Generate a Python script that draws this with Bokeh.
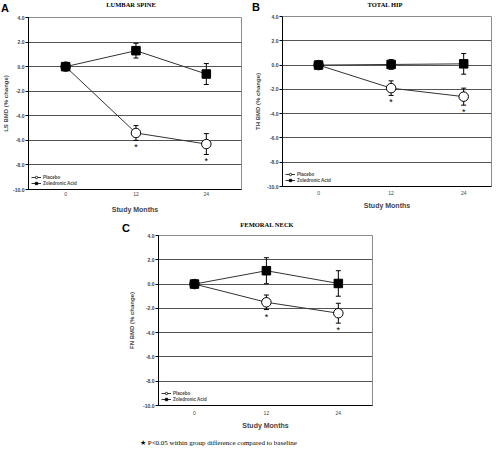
from bokeh.plotting import figure
from bokeh.models import (Range1d, FixedTicker, PrintfTickFormatter, ColumnDataSource,
                          Whisker, TeeHead, Legend, LegendItem, Div, Spacer)
from bokeh.layouts import column, row
from bokeh.embed import file_html
from bokeh.resources import INLINE
from bokeh.core.properties import value

# ---------------- data ----------------
months = [0, 12, 24]
y_ticks = [-10, -8, -6, -4, -2, 0, 2, 4]
grid_ticks = [-8, -6, -4, -2, 0, 2]
sig_months = [12, 24]

ls_placebo = [0.0, -5.4, -6.3]
ls_placebo_err = [0.0, 0.6, 0.85]
ls_zol = [0.0, 1.3, -0.6]
ls_zol_err = [0.0, 0.6, 0.85]

th_placebo = [0.0, -1.9, -2.6]
th_placebo_err = [0.0, 0.6, 0.7]
th_zol = [0.0, 0.05, 0.1]
th_zol_err = [0.0, 0.4, 0.85]

fn_placebo = [0.0, -1.5, -2.4]
fn_placebo_err = [0.0, 0.6, 0.82]
fn_zol = [0.0, 1.1, 0.05]
fn_zol_err = [0.0, 1.07, 1.05]

series_names = ["Placebo", "Zoledronic Acid"]
x_title = "Study Months"
footnote = "\u2605 P&lt;0.05 within group difference compared to baseline"

SANS = "Liberation Sans"
SERIF = "Liberation Serif"


def header(width, letter, letter_pos, title, title_pos):
    lx, ly = letter_pos
    tx, ty = title_pos
    html = (
        f'<div style="position:relative;width:{width}px;height:14px;">'
        f'<span style="position:absolute;left:{lx}px;top:{ly}px;font-family:\'{SANS}\';'
        f'font-weight:bold;font-size:11px;line-height:12px;color:black;">{letter}</span>'
        f'<span style="position:absolute;left:{tx - 100}px;width:200px;text-align:center;'
        f'top:{ty}px;font-family:\'{SERIF}\';font-weight:bold;font-size:6.5px;'
        f'line-height:8px;color:black;white-space:nowrap;">{title}</span>'
        f'</div>'
    )
    return Div(text=html, width=width, height=14, margin=0)


def panel(width, height, borders, xr, ylabel, std, plc, plc_err, zol, zol_err):
    left, right, top, bottom = borders
    p = figure(width=width, height=height, x_range=Range1d(*xr), y_range=Range1d(-10, 4),
               output_backend="svg", toolbar_location=None,
               min_border_left=left, min_border_right=right,
               min_border_top=top, min_border_bottom=bottom,
               background_fill_color="white", border_fill_color="white")
    p.outline_line_color = "#8c8c8c"
    p.outline_line_width = 1

    p.xgrid.visible = False
    p.ygrid.ticker = FixedTicker(ticks=grid_ticks)
    p.ygrid.grid_line_color = "#555555"
    p.ygrid.grid_line_width = 1

    ya = p.yaxis[0]
    ya.ticker = FixedTicker(ticks=y_ticks)
    ya.formatter = PrintfTickFormatter(format="%.1f")
    ya.major_label_text_font = SANS
    ya.major_label_text_font_size = "5px"
    ya.major_label_text_font_style = "bold"
    ya.major_label_standoff = 1
    ya.major_tick_out = 3
    ya.major_tick_in = 0
    ya.minor_tick_out = 0
    ya.minor_tick_in = 0
    ya.axis_line_color = "black"
    ya.major_tick_line_color = "black"
    ya.axis_label = ylabel
    ya.axis_label_text_font = SANS
    ya.axis_label_text_font_size = "6px"
    ya.axis_label_text_font_style = "bold"
    ya.axis_label_standoff = std[0]

    xa = p.xaxis[0]
    xa.ticker = FixedTicker(ticks=months)
    xa.major_label_text_font = SANS
    xa.major_label_text_font_size = "5px"
    xa.major_label_standoff = std[1]
    xa.major_tick_out = 0
    xa.major_tick_in = 0
    xa.minor_tick_out = 0
    xa.minor_tick_in = 0
    xa.axis_line_color = "black"
    xa.axis_label = x_title
    xa.axis_label_text_font = SANS
    xa.axis_label_text_font_size = "7px"
    xa.axis_label_text_font_style = "bold"
    xa.axis_label_standoff = std[2]

    # error bars
    for vals, errs in ((plc, plc_err), (zol, zol_err)):
        src = ColumnDataSource(dict(x=months,
                                    upper=[v + e for v, e in zip(vals, errs)],
                                    lower=[v - e for v, e in zip(vals, errs)]))
        w = Whisker(source=src, base="x", upper="upper", lower="lower", level="underlay",
                    line_color="black", line_width=1,
                    upper_head=TeeHead(size=5, line_color="black", line_width=1),
                    lower_head=TeeHead(size=5, line_color="black", line_width=1))
        p.add_layout(w)

    z_line = p.line(months, zol, line_color="#333333", line_width=1)
    p_line = p.line(months, plc, line_color="#333333", line_width=1)
    # small markers used as legend keys (hidden below the full-size markers)
    p_key = p.scatter(months, plc, marker="circle", size=4.5, fill_color="white",
                      line_color="black", line_width=0.8)
    z_key = p.scatter(months, zol, marker="square", size=4, fill_color="black",
                      line_color="black", line_width=0.8)
    p.scatter(months, plc, marker="circle", size=9.5, fill_color="white",
              line_color="black", line_width=1)
    p.scatter(months, zol, marker="square", size=8.5, fill_color="black",
              line_color="black", line_width=1)

    # significance asterisks below placebo error bars
    sig_y = [plc[months.index(m)] - plc_err[months.index(m)] for m in sig_months]
    p.text(x=sig_months, y=sig_y, text=["*"] * len(sig_months), text_font=value(SANS),
           text_font_size="9px", text_align="center", text_baseline="top",
           y_offset=2, text_color="black")

    legend = Legend(items=[LegendItem(label=series_names[0], renderers=[p_line, p_key]),
                           LegendItem(label=series_names[1], renderers=[z_line, z_key])],
                    location="bottom_left")
    legend.label_text_font = SANS
    legend.label_text_font_size = "4.5px"
    legend.label_text_font_style = "bold"
    legend.glyph_width = 10
    legend.glyph_height = 6
    legend.label_height = 6
    legend.label_standoff = 2
    legend.spacing = 0
    legend.padding = 2
    legend.margin = 1
    legend.border_line_alpha = 0
    legend.background_fill_alpha = 0
    p.add_layout(legend)
    return p


hA = header(250, "A", (1, 2), "LUMBAR SPINE", (131, 1))
pA = panel(250, 204, (23, 9, 3, 29), (-6.33, 30.0), "LS BMD (% change)", (1, 2, 7),
           ls_placebo, ls_placebo_err, ls_zol, ls_zol_err)
hB = header(249, "B", (2, 1), "TOTAL HIP", (135, 1))
pB = panel(249, 204, (32, 8, 2, 32), (-5.96, 28.6), "TH BMD (% change)", (3, 4, 4),
           th_placebo, th_placebo_err, th_zol, th_zol_err)
hC = header(264, "C", (2, 4), "FEMORAL NECK", (147, 3))
pC = panel(264, 200, (38, 12, 3, 27), (-6.0, 29.7), "FN BMD (% change)", (5, 5, 4),
           fn_placebo, fn_placebo_err, fn_zol, fn_zol_err)

note = Div(text=footnote, width=300, height=19, margin=0,
           styles={"font-family": SERIF, "font-size": "7px", "line-height": "22px",
                   "color": "black", "white-space": "nowrap"})

layout = column(
    row(column(hA, pA), column(hB, pB)),
    row(Spacer(width=120, height=214), column(hC, pC)),
    row(Spacer(width=140, height=19), note),
)

open("out.html", "w").write(file_html(layout, INLINE))
